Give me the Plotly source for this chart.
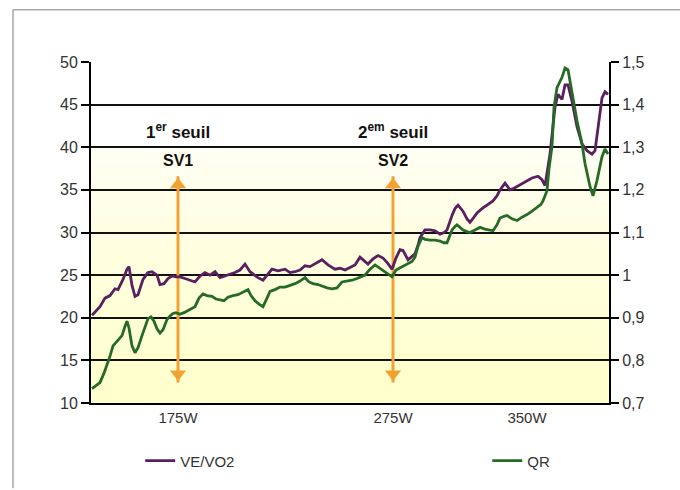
import plotly.graph_objects as go

# Time axis (sample offset) and ventilatory equivalent VE/VO2
ve_t = [1, 9, 14, 19, 24, 27, 32, 36, 38, 41, 44, 47, 52, 57, 61, 66, 69, 73, 77, 81,
        85, 89, 94, 99, 104, 109, 114, 119, 124, 129, 134, 139, 144, 149, 154, 159, 163, 167, 172, 176,
        181, 187, 194, 199, 204, 209, 214, 219, 225, 231, 237, 244, 249, 254, 259, 264, 269, 274, 277, 282,
        287, 292, 296, 301, 305, 309, 312, 317, 321, 324, 327, 329, 334, 339, 344, 349, 353, 356, 361, 364,
        367, 372, 376, 379, 383, 386, 391, 396, 402, 406, 409, 414, 419, 423, 426, 431, 436, 441, 447, 451,
        454, 459, 464, 467, 471, 474, 477, 481, 486, 491, 496, 501, 504, 507, 511, 514, 517]
ve_vo2 = [20.3, 21.3, 22.3, 22.6, 23.4, 23.3, 24.5, 25.7, 26.0, 23.8, 22.5, 22.7, 24.5, 25.3, 25.4, 25.0, 23.9, 24.0, 24.6, 24.9,
          24.8, 24.8, 24.6, 24.4, 24.2, 24.9, 25.3, 25.0, 25.4, 24.7, 24.9, 25.1, 25.3, 25.6, 26.3, 25.4, 25.0, 24.7, 24.4, 25.0,
          25.7, 25.5, 25.7, 25.3, 25.4, 25.6, 26.1, 26.0, 26.4, 26.8, 26.2, 25.7, 25.8, 25.6, 25.9, 26.2, 27.1, 26.6, 26.3, 26.9,
          27.3, 27.0, 26.5, 25.7, 27.0, 28.0, 27.9, 26.8, 27.2, 27.5, 28.5, 29.4, 30.3, 30.3, 30.2, 29.8, 30.0, 30.3, 32.0, 32.8,
          33.2, 32.5, 31.6, 31.2, 31.8, 32.3, 32.8, 33.2, 33.7, 34.3, 35.0, 35.8, 35.0, 35.2, 35.4, 35.7, 36.0, 36.4, 36.6, 36.2,
          35.5, 39.2, 44.7, 46.2, 45.6, 47.3, 47.3, 45.4, 42.4, 40.4, 39.6, 39.2, 39.6, 42.4, 45.8, 46.5, 46.2]

# Respiratory quotient QR
qr_t = [1, 5, 9, 13, 16, 19, 22, 26, 31, 34, 36, 38, 41, 44, 47, 51, 54, 57, 60, 63,
        66, 69, 72, 76, 79, 82, 85, 89, 93, 96, 100, 104, 108, 112, 116, 121, 125, 129, 133, 137,
        142, 147, 152, 157, 160, 164, 168, 172, 176, 179, 184, 189, 194, 199, 204, 209, 214, 218, 222, 227,
        231, 236, 241, 246, 251, 256, 261, 266, 270, 274, 279, 284, 289, 294, 298, 301, 305, 311, 317, 321,
        324, 327, 331, 334, 339, 344, 349, 353, 356, 359, 361, 364, 366, 369, 372, 376, 379, 384, 389, 394,
        399, 402, 406, 409, 413, 416, 421, 426, 431, 436, 441, 446, 450, 452, 454, 456, 458, 461, 463, 466,
        471, 474, 477, 481, 486, 491, 494, 499, 502, 506, 511, 514, 517]
qr = [0.734, 0.74, 0.748, 0.77, 0.788, 0.81, 0.834, 0.844, 0.858, 0.88, 0.892, 0.876, 0.834, 0.818, 0.83, 0.858, 0.88, 0.898, 0.902, 0.892,
      0.874, 0.864, 0.872, 0.896, 0.904, 0.91, 0.912, 0.908, 0.912, 0.916, 0.92, 0.926, 0.946, 0.956, 0.952, 0.95, 0.944, 0.942, 0.94, 0.948,
      0.952, 0.954, 0.96, 0.966, 0.952, 0.94, 0.932, 0.926, 0.946, 0.962, 0.966, 0.972, 0.972, 0.976, 0.98, 0.986, 0.994, 0.984, 0.98, 0.978,
      0.974, 0.97, 0.968, 0.97, 0.984, 0.986, 0.988, 0.992, 0.996, 1.0, 1.014, 1.024, 1.016, 1.008, 1.0, 0.996, 1.012, 1.02, 1.026, 1.032,
      1.042, 1.068, 1.088, 1.084, 1.082, 1.082, 1.08, 1.076, 1.076, 1.092, 1.106, 1.114, 1.118, 1.112, 1.106, 1.102, 1.1, 1.106, 1.112, 1.108,
      1.106, 1.104, 1.118, 1.134, 1.138, 1.14, 1.132, 1.128, 1.136, 1.142, 1.15, 1.158, 1.166, 1.174, 1.186, 1.198, 1.25, 1.302, 1.394, 1.44,
      1.464, 1.486, 1.482, 1.424, 1.362, 1.308, 1.262, 1.208, 1.186, 1.222, 1.278, 1.296, 1.284]

assert len(ve_t) == len(ve_vo2) and len(qr_t) == len(qr)

# Power stages on the time axis
power_t = [87, 302, 436]
power_labels = ["175W", "275W", "350W"]

# Ventilatory thresholds
threshold_t = [87, 302]
threshold_titles = ["<b>1<sup>er</sup> seuil</b>", "<b>2<sup>em</sup> seuil</b>"]
threshold_names = ["<b>SV1</b>", "<b>SV2</b>"]
threshold_span = [12.4, 36.6]

left_ticks = [10, 15, 20, 25, 30, 35, 40, 45, 50]
right_ticks = [0.7, 0.8, 0.9, 1.0, 1.1, 1.2, 1.3, 1.4, 1.5]
right_labels = ["0,7", "0,8", "0,9", "1", "1,1", "1,2", "1,3", "1,4", "1,5"]

PURPLE = "#5a1f5e"
GREEN = "#256a25"
ORANGE = "#f2a232"
FONT = "Liberation Sans, Arial, sans-serif"

fig = go.Figure()

# Double-headed threshold arrows: shaft plus triangle heads
head_off = 1.0
for t in threshold_t:
    fig.add_trace(go.Scatter(x=[t, t], y=threshold_span, mode="lines",
                             line=dict(color=ORANGE, width=3), showlegend=False, hoverinfo="skip"))
    fig.add_trace(go.Scatter(x=[t, t], y=[threshold_span[0] + head_off, threshold_span[1] - head_off],
                             mode="markers", showlegend=False, hoverinfo="skip",
                             marker=dict(symbol=["triangle-down", "triangle-up"], size=14,
                                         color=ORANGE, line=dict(width=0))))

fig.add_trace(go.Scatter(x=ve_t, y=ve_vo2, mode="lines", name="VE/VO2",
                         line=dict(color=PURPLE, width=2.8), legend="legend", showlegend=True))
fig.add_trace(go.Scatter(x=qr_t, y=qr, mode="lines", name="QR", yaxis="y2",
                         line=dict(color=GREEN, width=2.8), legend="legend2", showlegend=True))

# Soft yellow gradient in the lower part of the plot
def mix(c1, c2, f):
    return "#%02x%02x%02x" % tuple(round(a + (b - a) * f) for a, b in zip(c1, c2))

top_col = (255, 254, 244)
bot_col = (255, 255, 202)
steps = 30
shapes = []
for i in range(steps):
    y0 = 40 - i * 1.0
    f = (i + 0.5) / steps
    shapes.append(dict(type="rect", xref="paper", yref="y", x0=0, x1=1, y0=y0 - 1.0, y1=y0,
                       fillcolor=mix(top_col, bot_col, f ** 0.8), line=dict(width=0), layer="below"))

# Outer frame (left and top edges)
shapes.append(dict(type="line", xref="paper", yref="paper", x0=-0.1506, x1=-0.1506, y0=1.153, y1=-0.25,
                   line=dict(color="#a8a8a8", width=1.5)))
shapes.append(dict(type="line", xref="paper", yref="paper", x0=-0.1506, x1=1.2, y0=1.153, y1=1.153,
                   line=dict(color="#a8a8a8", width=1.5)))

annotations = []
for t, title, name in zip(threshold_t, threshold_titles, threshold_names):
    annotations.append(dict(x=t, y=41.9, xref="x", yref="y", text=title, showarrow=False,
                            font=dict(family=FONT, size=17, color="#111111")))
    annotations.append(dict(x=t, y=38.4, xref="x", yref="y", text=name, showarrow=False,
                            font=dict(family=FONT, size=16, color="#111111")))

fig.update_layout(
    width=680, height=490,
    margin=dict(l=91, r=71, t=62, b=82),
    paper_bgcolor="white", plot_bgcolor="white",
    showlegend=True,
    font=dict(family=FONT, size=15, color="#333333"),
    xaxis=dict(range=[0, 518], tickvals=power_t, ticktext=power_labels, showgrid=False,
               showline=True, linecolor="black", linewidth=2, ticks="", zeroline=False,
               tickfont=dict(size=15, color="#333333")),
    yaxis=dict(range=[10, 50], tickvals=left_ticks, showgrid=True, gridcolor="#111111", gridwidth=2,
               showline=True, linecolor="black", linewidth=2, ticks="outside", ticklen=8,
               tickcolor="black", tickwidth=1.5, zeroline=False, tickfont=dict(size=16, color="#333333")),
    yaxis2=dict(range=[0.7, 1.5], overlaying="y", side="right", tickvals=right_ticks, ticktext=right_labels,
                showgrid=False, showline=True, linecolor="black", linewidth=2, ticks="outside", ticklen=8,
                tickcolor="black", tickwidth=1.5, zeroline=False, tickfont=dict(size=16, color="#333333")),
    legend=dict(x=0.095, y=-0.17, xanchor="left", yanchor="middle", orientation="h",
                font=dict(size=15, color="#333333"), bgcolor="rgba(0,0,0,0)"),
    legend2=dict(x=0.765, y=-0.17, xanchor="left", yanchor="middle", orientation="h",
                 font=dict(size=15, color="#333333"), bgcolor="rgba(0,0,0,0)"),
    shapes=shapes,
    annotations=annotations,
)

fig.write_html("out.html")
